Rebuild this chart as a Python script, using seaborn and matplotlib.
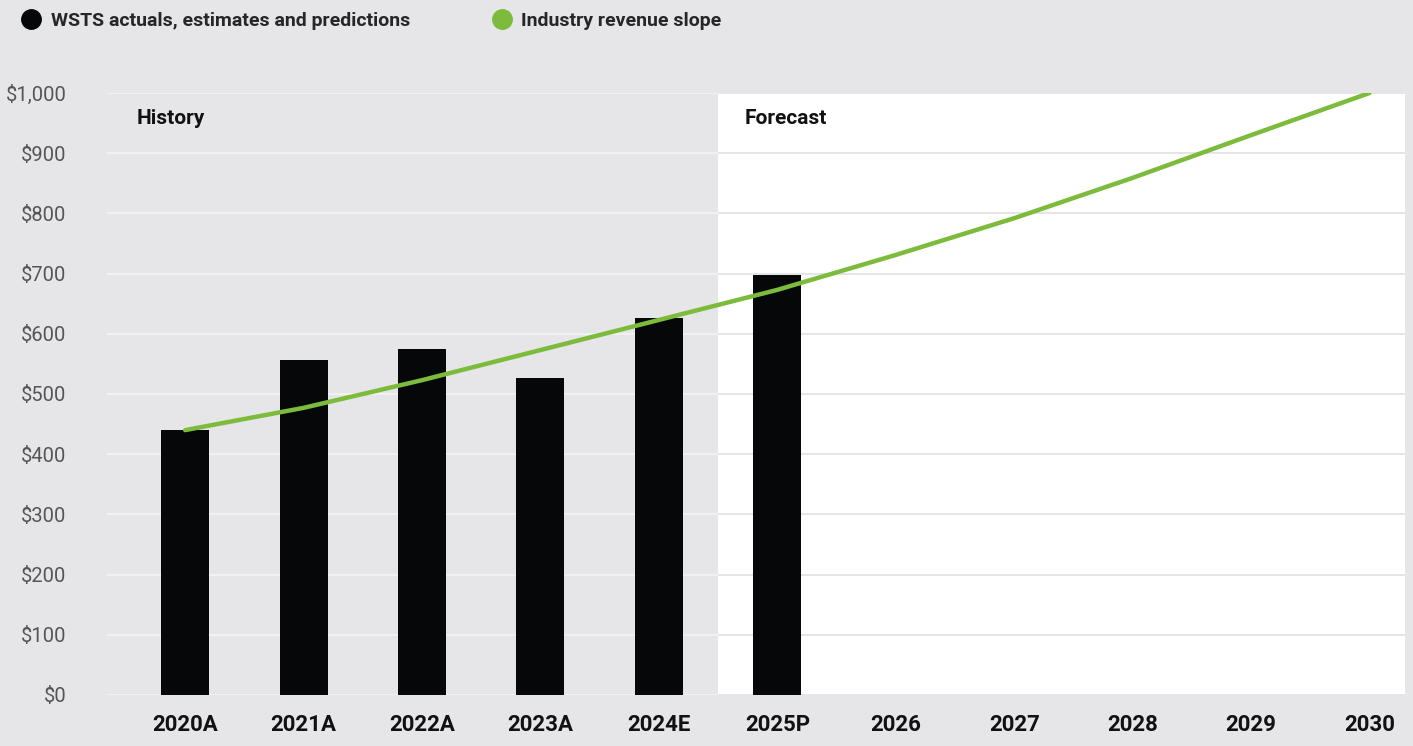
import numpy as np
import pandas as pd
import matplotlib
matplotlib.use("Agg")
import matplotlib.pyplot as plt
from matplotlib.lines import Line2D
import seaborn as sns

# ---- data ----
years = ["2020A", "2021A", "2022A", "2023A", "2024E", "2025P",
         "2026", "2027", "2028", "2029", "2030"]
wsts_revenue = [440, 556, 575, 527, 626, 698, None, None, None, None, None]
slope_revenue = [440, 477, 523, 573, 623, 673, 731, 792, 859, 930, 1000]
y_ticks = [0, 100, 200, 300, 400, 500, 600, 700, 800, 900, 1000]
y_tick_labels = ["$0", "$100", "$200", "$300", "$400", "$500", "$600",
                 "$700", "$800", "$900", "$1,000"]
legend_labels = ["WSTS actuals, estimates and predictions", "Industry revenue slope"]
region_labels = ["History", "Forecast"]

BG = "#e6e6e8"
GREEN = "#7cbb3b"
BAR = "#050708"

sns.set_theme(style="white")
plt.rcParams["font.family"] = ["Roboto", "DejaVu Sans"]

fig = plt.figure(figsize=(14.13, 7.46), dpi=100, facecolor=BG)
ax = fig.add_axes([107 / 1413, 1 - 695 / 746, (1405 - 107) / 1413, (695 - 93) / 746])
ax.set_facecolor(BG)

xmin, xmax = -0.66, 10.3
split = 4.5

# forecast white region
ax.axvspan(split, xmax, color="white", zorder=0, lw=0)
# gridlines
ax.hlines(y_ticks, xmin, split, color="#f3f3f4", lw=1.3, zorder=0.5)
ax.hlines(y_ticks, split, xmax, color="#e3e3e5", lw=1.3, zorder=0.5)

df = pd.DataFrame({"year": years, "rev": wsts_revenue})
sns.barplot(data=df, x="year", y="rev", order=years, color=BAR, width=0.405,
            saturation=1, linewidth=0, ax=ax, zorder=2)

sns.lineplot(x=np.arange(len(years)), y=slope_revenue, color=GREEN, lw=3.2,
             ax=ax, zorder=3)

ax.set_xlim(xmin, xmax)
ax.set_ylim(0, 1000)
ax.set_xlabel("")
ax.set_ylabel("")
ax.set_yticks(y_ticks)
ax.set_yticklabels(y_tick_labels)
ax.set_xticks(range(len(years)))
ax.set_xticklabels(years)
for s in ax.spines.values():
    s.set_visible(False)
ax.tick_params(axis="y", length=0, pad=29, labelsize=14.5, labelcolor="#555555")
ax.tick_params(axis="x", length=0, pad=14, labelsize=16, labelcolor="#111111")
for t in ax.get_xticklabels():
    t.set_fontweight("bold")
for t in ax.get_yticklabels():
    t.set_horizontalalignment("right")

ax.text(-0.41, 958, region_labels[0], fontsize=15, fontweight="bold", color="#111111",
        va="center", ha="left")
ax.text(4.72, 958, region_labels[1], fontsize=15, fontweight="bold", color="#111111",
        va="center", ha="left")

handles = [Line2D([], [], marker="o", ls="", color=BAR, markersize=14),
           Line2D([], [], marker="o", ls="", color=GREEN, markersize=14)]
fig.legend(handles, legend_labels, loc="upper left", bbox_to_anchor=(0.003, 1.008),
           ncol=2, frameon=False, prop={"weight": "bold", "size": 14},
           handletextpad=0.5, columnspacing=4.2, handlelength=1.0)

fig.savefig("out.png", dpi=100, facecolor=BG)
